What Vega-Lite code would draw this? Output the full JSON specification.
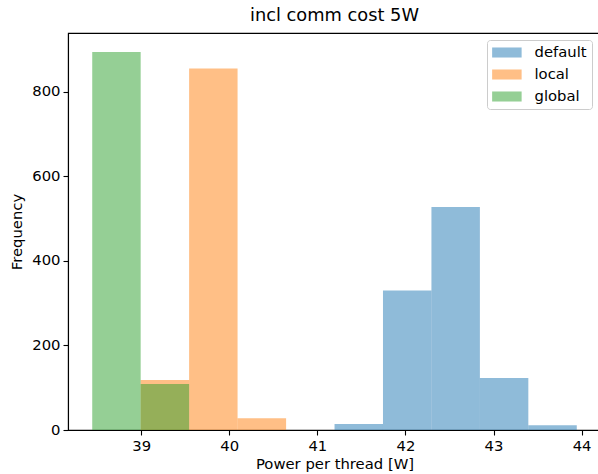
{
  "$schema": "https://vega.github.io/schema/vega-lite/v6.json",
  "width": 533,
  "height": 397,
  "autosize": {"type": "none"},
  "padding": {"left": 68, "top": 33, "right": 0, "bottom": 44},
  "background": "white",
  "title": {
    "text": "incl comm cost 5W",
    "font": "DejaVu Sans",
    "fontSize": 17.8,
    "fontWeight": "normal",
    "color": "black",
    "anchor": "middle",
    "offset": 8
  },
  "config": {
    "view": {"stroke": "black", "strokeWidth": 1.1},
    "axis": {
      "labelFont": "DejaVu Sans",
      "labelFontSize": 14.8,
      "labelColor": "black",
      "titleFont": "DejaVu Sans",
      "titleFontSize": 14.8,
      "titleFontWeight": "normal",
      "titleColor": "black",
      "domainColor": "black",
      "domainWidth": 1.1,
      "tickColor": "black",
      "tickWidth": 1.1,
      "tickSize": 5,
      "labelPadding": 3,
      "grid": false
    }
  },
  "data": {
    "values": [
      {"series": "default", "x0": 41.195, "x1": 41.745, "count": 14},
      {"series": "default", "x0": 41.745, "x1": 42.295, "count": 330},
      {"series": "default", "x0": 42.295, "x1": 42.845, "count": 527},
      {"series": "default", "x0": 42.845, "x1": 43.395, "count": 123},
      {"series": "default", "x0": 43.395, "x1": 43.945, "count": 11},
      {"series": "local", "x0": 38.994, "x1": 39.544, "count": 118},
      {"series": "local", "x0": 39.544, "x1": 40.094, "count": 855},
      {"series": "local", "x0": 40.094, "x1": 40.645, "count": 28},
      {"series": "global", "x0": 38.444, "x1": 38.994, "count": 894},
      {"series": "global", "x0": 38.994, "x1": 39.544, "count": 109}
    ]
  },
  "mark": {"type": "bar", "opacity": 0.5, "strokeWidth": 0},
  "encoding": {
    "x": {
      "field": "x0",
      "type": "quantitative",
      "scale": {"domain": [38.169, 44.22], "nice": false, "zero": false},
      "axis": {"values": [39, 40, 41, 42, 43, 44], "title": "Power per thread [W]", "titlePadding": 4}
    },
    "x2": {"field": "x1"},
    "y": {
      "field": "count",
      "type": "quantitative",
      "scale": {"domain": [0, 938.7], "nice": false},
      "axis": {"values": [0, 200, 400, 600, 800], "title": "Frequency", "titlePadding": 7}
    },
    "y2": {"datum": 0},
    "color": {
      "field": "series",
      "type": "nominal",
      "scale": {"domain": ["default", "local", "global"], "range": ["#1f77b4", "#ff7f0e", "#2ca02c"]},
      "legend": {
        "title": null,
        "orient": "none",
        "legendX": 419,
        "legendY": 7,
        "fillColor": "rgba(255,255,255,0.8)",
        "strokeColor": "#cccccc",
        "cornerRadius": 3,
        "padding": 5,
        "symbolType": "M-1,-0.68L3,-0.68L3,0.68L-1,0.68Z",
        "symbolSize": 217.5,
        "symbolOpacity": 0.5,
        "symbolStrokeWidth": 0,
        "labelFont": "DejaVu Sans",
        "labelFontSize": 14.8,
        "labelColor": "black",
        "labelOffset": 27.5,
        "rowPadding": 6
      }
    },
    "order": {"field": "series", "sort": "descending"}
  }
}
